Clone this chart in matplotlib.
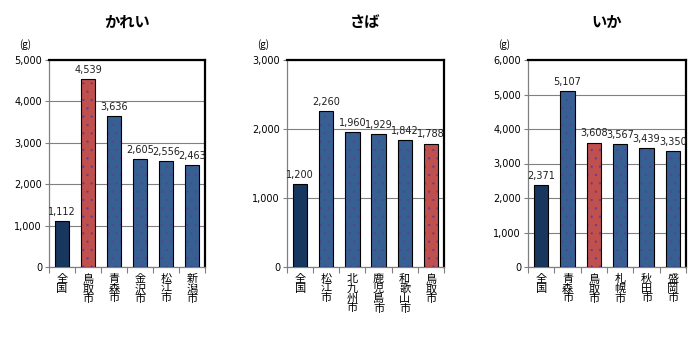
import matplotlib.pyplot as plt
import numpy as np

plt.rcParams['font.family'] = ['Noto Sans CJK JP', 'DejaVu Sans']
plt.rcParams['hatch.linewidth'] = 0.35

# かれい
karei_cities = ['全国', '鳥取市', '青森市', '金沢市', '松江市', '新潟市']
karei_values = [1112, 4539, 3636, 2605, 2556, 2463]

# さば
saba_cities = ['全国', '松江市', '北九州市', '鹿児島市', '和歌山市', '鳥取市']
saba_values = [1200, 2260, 1960, 1929, 1842, 1788]

# いか
ika_cities = ['全国', '青森市', '鳥取市', '札幌市', '秋田市', '盛岡市']
ika_values = [2371, 5107, 3608, 3567, 3439, 3350]

navy = '#17375E'
blue = '#376092'
red = '#C0504D'

panels = [
    ('かれい', karei_cities, karei_values, 5000, 1000, [49, 205]),
    ('さば', saba_cities, saba_values, 3000, 1000, [287, 444]),
    ('いか', ika_cities, ika_values, 6000, 1000, [528, 686]),
]

fig = plt.figure(figsize=(7, 3.4), dpi=100)
W, H = 700, 340
top, bottom = 60, 267

for title, cities, values, ymax, step, (x0, x1) in panels:
    ax = fig.add_axes([x0 / W, 1 - bottom / H, (x1 - x0) / W, (bottom - top) / H])
    x = np.arange(len(cities))
    colors = []
    for c in cities:
        if c == '全国':
            colors.append(navy)
        elif c == '鳥取市':
            colors.append(red)
        else:
            colors.append(blue)
    # fill with dotted pattern, then black outline on top
    for xi, v, col in zip(x, values, colors):
        hatch = None if col == navy else '..'
        ax.bar(xi, v, width=0.55, color=col, edgecolor='#5E3C99' if hatch else col,
               hatch=hatch, linewidth=0, zorder=3)
        ax.bar(xi, v, width=0.55, facecolor='none', edgecolor='black',
               linewidth=0.8, zorder=4)
        ax.text(xi, v + ymax * 0.02, f'{v:,}', ha='center', va='bottom',
                fontsize=7, color='#1F1F1F', family=['DejaVu Sans'])

    ax.set_xlim(-0.5, len(cities) - 0.5)
    ax.set_ylim(0, ymax)
    ax.set_yticks(np.arange(0, ymax + 1, step))
    ax.set_yticklabels([f'{t:,}' for t in range(0, ymax + 1, step)],
                       fontsize=7, family=['DejaVu Sans'])
    ax.yaxis.grid(True, color='#808080', linewidth=0.8, zorder=0)
    ax.set_axisbelow(True)

    # category boundaries as x ticks
    ax.set_xticks(np.arange(-0.5, len(cities), 1))
    ax.set_xticklabels([])
    ax.tick_params(axis='x', length=4, color='#808080', direction='out')
    ax.tick_params(axis='y', length=3, color='#808080', direction='out', pad=2)
    for xi, c in zip(x, cities):
        ax.text(xi, -ymax * 0.035, '\n'.join(c), ha='center', va='top',
                fontsize=8, linespacing=0.95, transform=ax.transData)

    for s in ['left', 'bottom']:
        ax.spines[s].set_color('#808080')
        ax.spines[s].set_linewidth(0.9)
    for s in ['top', 'right']:
        ax.spines[s].set_color('black')
        ax.spines[s].set_linewidth(1.6)

    ax.set_title(title, fontsize=11, fontweight='bold', pad=24)
    ax.text(-0.15, 1.05, '(g)', transform=ax.transAxes, fontsize=7,
            ha='center', va='bottom')

fig.savefig('out.png', dpi=100)
